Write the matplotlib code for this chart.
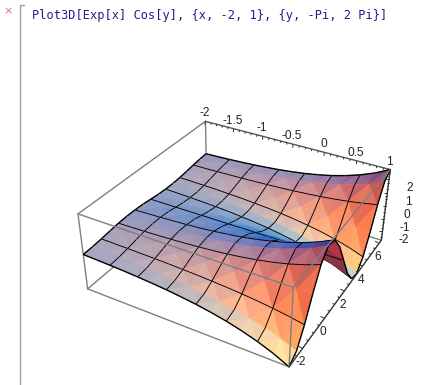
import numpy as np
import matplotlib
matplotlib.use("Agg")
import matplotlib.pyplot as plt
from matplotlib.collections import PolyCollection, LineCollection

title = "Plot3D[Exp[x] Cos[y], {x, -2, 1}, {y, -Pi, 2 Pi}]"

x_min, x_max = -2.0, 1.0
y_min, y_max = -3.1416, 6.2832
z_min, z_max = -2.72, 2.72

x_ticks = [-2, -1.5, -1, -0.5, 0, 0.5, 1]
x_tick_labels = ["-2", "-1.5", "-1", "-0.5", "0", "0.5", "1"]
y_ticks = [-2, 0, 2, 4, 6]
y_tick_labels = ["-2", "0", "2", "4", "6"]
z_ticks = [-2, -1, 0, 1, 2]
z_tick_labels = ["-2", "-1", "0", "1", "2"]

# heights, rows go along x, columns along y
z_rows = [
    [-.14, -.11, -.05, .03, .10, .13, .12, .08, 0, -.08, -.12, -.13, -.10, -.03, .05, .11, .14],
    [-.17, -.14, -.06, .03, .12, .16, .16, .09, 0, -.09, -.16, -.16, -.12, -.03, .06, .14, .17],
    [-.21, -.17, -.08, .04, .15, .20, .19, .12, 0, -.12, -.19, -.20, -.15, -.04, .08, .17, .21],
    [-.26, -.21, -.10, .05, .18, .25, .24, .14, 0, -.14, -.24, -.25, -.18, -.05, .10, .21, .26],
    [-.32, -.27, -.12, .06, .23, .31, .29, .18, 0, -.18, -.29, -.31, -.23, -.06, .12, .27, .32],
    [-.40, -.33, -.15, .08, .28, .39, .36, .22, 0, -.22, -.36, -.39, -.28, -.08, .15, .33, .40],
    [-.49, -.41, -.19, .10, .35, .48, .45, .27, 0, -.27, -.45, -.48, -.35, -.10, .19, .41, .49],
    [-.61, -.50, -.23, .12, .43, .60, .56, .34, 0, -.34, -.56, -.60, -.43, -.12, .23, .50, .61],
    [-.75, -.62, -.29, .15, .53, .74, .69, .42, 0, -.42, -.69, -.74, -.53, -.15, .29, .62, .75],
    [-.93, -.77, -.36, .18, .66, .91, .86, .52, 0, -.52, -.86, -.91, -.66, -.18, .36, .77, .93],
    [-1.15, -.96, -.44, .23, .82, 1.13, 1.07, .64, 0, -.64, -1.07, -1.13, -.82, -.23, .44, .96, 1.15],
    [-1.43, -1.19, -.55, .28, 1.01, 1.40, 1.32, .79, 0, -.79, -1.32, -1.40, -1.01, -.28, .55, 1.19, 1.43],
    [-1.77, -1.47, -.68, .35, 1.25, 1.74, 1.64, .98, 0, -.98, -1.64, -1.74, -1.25, -.35, .68, 1.47, 1.77],
    [-2.19, -1.82, -.84, .43, 1.55, 2.15, 2.03, 1.22, 0, -1.22, -2.03, -2.15, -1.55, -.43, .84, 1.82, 2.19],
    [-2.72, -2.26, -1.04, .53, 1.92, 2.67, 2.51, 1.51, 0, -1.51, -2.51, -2.67, -1.92, -.53, 1.04, 2.26, 2.72],
]
z = np.array(z_rows)
nx, ny = z.shape
xs = np.linspace(x_min, x_max, nx)
ys = np.linspace(y_min, y_max, ny)

# box corners on the image (unit box coords -> pixel), used to fit the camera
corners = [
    ((0, 1, 1), (205, 122)), ((1, 1, 1), (391, 170)),
    ((1, 0, 1), (293, 287)), ((0, 0, 1), (78, 213)),
    ((0, 0, 0), (88, 290)), ((1, 0, 0), (289, 367)),
    ((1, 1, 0), (381, 240)), ((0, 1, 0), (207, 187)),
]
rows = []
for (a, b, c), (u, v) in corners:
    rows.append([a, b, c, 1, 0, 0, 0, 0, -u * a, -u * b, -u * c, -u])
    rows.append([0, 0, 0, 0, a, b, c, 1, -v * a, -v * b, -v * c, -v])
P = np.linalg.svd(np.array(rows, float))[2][-1].reshape(3, 4)
if P[2] @ [.5, .5, .5, 1] < 0:
    P = -P


def unit(x, y, z):
    return np.array([(x - x_min) / (x_max - x_min),
                     (y - y_min) / (y_max - y_min),
                     (z - z_min) / (z_max - z_min)])


def project(x, y, z):
    h = P @ np.append(unit(x, y, z), 1)
    return h[0] / h[2], h[1] / h[2], h[2]


# camera axes for the lighting, taken from the fitted projection
box = np.array([1, 1, 0.42])
c0 = P @ [.5, .5, .5, 1]
J = np.array([(P[i, :3] - c0[i] / c0[2] * P[2, :3]) / c0[2] / box for i in (0, 1)])
right = J[0] / np.linalg.norm(J[0])
up = -J[1] + (J[1] @ right) * right
up = up / np.linalg.norm(up)
view = np.cross(right, up)
if view[2] < 0:
    view = -view

# one light per channel: base level, strength, direction in camera axes, falloff
channels = [(.22, .97, (.2, -.2, .96), 1), (.20, .78, (.6, .2, .77), 1.25),
            (.28, .55, (.45, .85, .3), 1)]


def shade(a, b, c):
    pts = [unit(*p) * box for p in (a, b, c)]
    n = np.cross(pts[1] - pts[0], pts[2] - pts[0])
    n = n / np.linalg.norm(n)
    nv = np.array([n @ right, n @ up, n @ view])
    if nv[2] < 0:
        nv = -nv
    col = []
    for base, k, d, p in channels:
        d = np.array(d, float) / np.linalg.norm(d)
        col.append(base + k * max(0, nv @ d) ** p)
    return np.clip(col, 0, 1)


fig = plt.figure(figsize=(4.37, 3.85), dpi=100)
ax = fig.add_axes([0, 0, 1, 1])
ax.set_xlim(0, 437)
ax.set_ylim(385, 0)
ax.axis("off")

gray = "#7f7f7f"


def box_line(p, q, color=gray, lw=1.0, zorder=1):
    a = project(*p)
    b = project(*q)
    ax.plot([a[0], b[0]], [a[1], b[1]], color=color, lw=lw, zorder=zorder,
            solid_capstyle="round")


# back of the box
box_line((x_min, y_min, z_min), (x_min, y_max, z_min))
box_line((x_min, y_max, z_min), (x_max, y_max, z_min))
box_line((x_min, y_max, z_min), (x_min, y_max, z_max))
box_line((x_min, y_min, z_min), (x_max, y_min, z_min))
box_line((x_min, y_min, z_min), (x_min, y_min, z_max))
box_line((x_min, y_min, z_max), (x_min, y_max, z_max))

# surface: triangles and mesh pieces go in one list, far ones first
items = []
for i in range(nx - 1):
    for j in range(ny - 1):
        p00 = (xs[i], ys[j], z[i, j])
        p10 = (xs[i + 1], ys[j], z[i + 1, j])
        p01 = (xs[i], ys[j + 1], z[i, j + 1])
        p11 = (xs[i + 1], ys[j + 1], z[i + 1, j + 1])
        if (i + j) % 2 == 0:
            tris = [(p00, p10, p11), (p00, p11, p01)]
        else:
            tris = [(p00, p10, p01), (p10, p11, p01)]
        for t in tris:
            pr = [project(*p) for p in t]
            col = shade(*t)
            items.append((np.mean([q[2] for q in pr]), [q[:2] for q in pr],
                          (*col, 1), (*col, 1), .4))

bias = 0.012 * abs(c0[2])
for i in range(nx):
    for j in range(ny):
        for di, dj in ((1, 0), (0, 1)):
            if i + di >= nx or j + dj >= ny:
                continue
            if di == 1 and j % 2:
                continue
            if dj == 1 and i % 2:
                continue
            edge = (di == 1 and j in (0, ny - 1)) or (dj == 1 and i in (0, nx - 1))
            a = project(xs[i], ys[j], z[i, j])
            b = project(xs[i + di], ys[j + dj], z[i + di, j + dj])
            items.append(((a[2] + b[2]) / 2 - bias, [a[:2], b[:2]],
                          (0, 0, 0, 0), (0, 0, 0, 1), 1.0 if edge else .65))

items.sort(key=lambda it: -it[0])
surface = PolyCollection([it[1] for it in items], facecolors=[it[2] for it in items],
                         edgecolors=[it[3] for it in items],
                         linewidths=[it[4] for it in items], zorder=2)
ax.add_collection(surface)

# front of the box, over the surface
box_line((x_min, y_min, z_max), (x_max, y_min, z_max), zorder=3)
box_line((x_max, y_min, z_max), (x_max, y_max, z_max), zorder=3)
box_line((x_max, y_min, z_max), (x_max, y_min, z_min), zorder=3)

# axes with ticks
box_line((x_min, y_max, z_max), (x_max, y_max, z_max), color="#555555", zorder=1.5)
box_line((x_max, y_min, z_min), (x_max, y_max, z_min), color="#333333", zorder=3)
box_line((x_max, y_max, z_min), (x_max, y_max, z_max), color="#333333", zorder=1.5)

tick_segs = []
for v in np.arange(-2, 1.01, .1):
    a = project(v, y_max, z_max)
    size = 3.5 if abs(v * 2 - round(v * 2)) < 1e-6 else 2
    tick_segs.append([a[:2], (a[0] - .1 * size, a[1] + size)])
for v in np.arange(-3, 6.01, .5):
    a = project(x_max, v, z_min)
    size = 4 if abs(v - round(v)) < 1e-6 and int(round(v)) % 2 == 0 else 2
    tick_segs.append([a[:2], (a[0] - size, a[1] - .5 * size)])
for v in np.arange(-2.5, 2.51, .25):
    a = project(x_max, y_max, v)
    size = 3 if abs(v - round(v)) < 1e-6 else 1.5
    tick_segs.append([a[:2], (a[0] - size, a[1])])
ax.add_collection(LineCollection(tick_segs, colors="#333333", linewidths=.7, zorder=3))

label_font = dict(fontsize=8.6, family="Liberation Sans", color="#222222",
                  ha="center", va="center", zorder=4)
for v, s in zip(x_ticks, x_tick_labels):
    a = project(v, y_max, z_max)
    ax.text(a[0] - 1, a[1] - 8, s, **label_font)
for v, s in zip(y_ticks, y_tick_labels):
    a = project(x_max, v, z_min)
    ax.text(a[0] - 1.5, a[1] + 14, s, **label_font)
for v, s in zip(z_ticks, z_tick_labels):
    a = project(x_max, y_max, v)
    ax.text(a[0] + 21, a[1] + 9, s, **label_font)

# notebook cell bracket and input line
ax.plot([24, 20, 20], [5, 5, 385], color="#a0a0a0", lw=1.0, zorder=1)
ax.text(8, 11, "×", color="#e8706a", fontsize=8, ha="center", va="center")
ax.text(32, 16, title, family="DejaVu Sans Mono", fontsize=8.64, color="#20208c",
        ha="left", va="center")

fig.savefig("out.png", dpi=100)
